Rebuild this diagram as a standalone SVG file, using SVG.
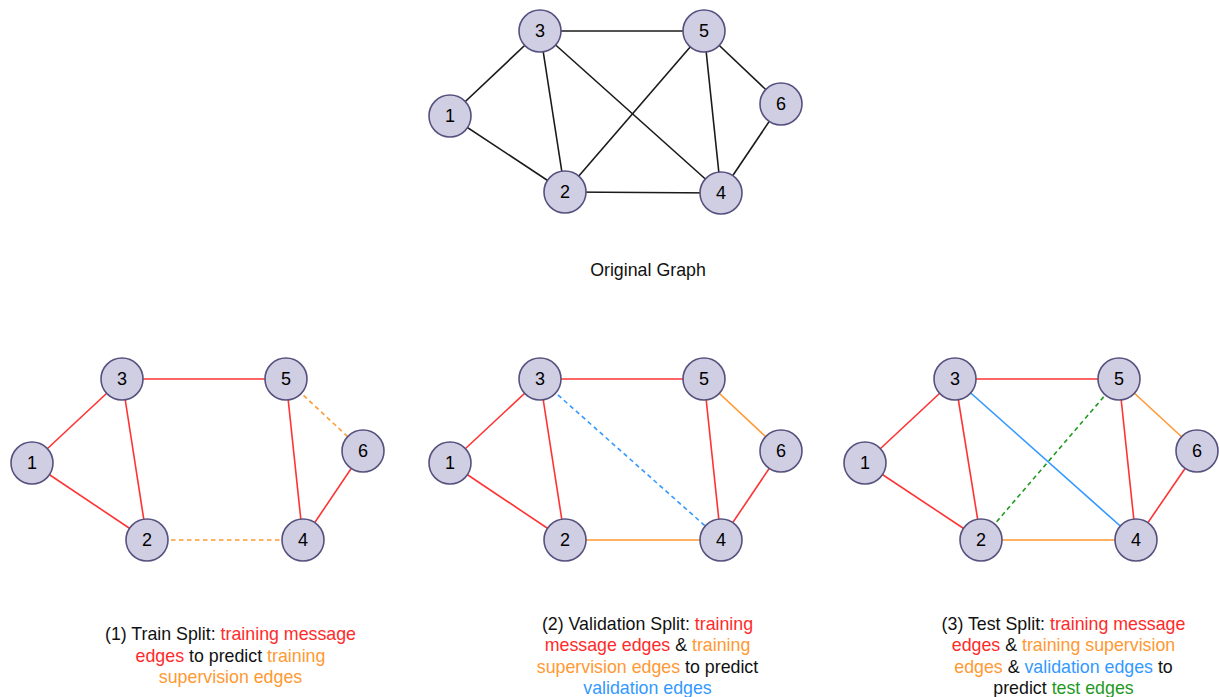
<svg xmlns="http://www.w3.org/2000/svg" width="1219" height="697" viewBox="0 0 1219 697">
  <style>
    .node circle { fill: #d0cee2; stroke: #56517e; stroke-width: 1.6; }
    .node text { font-family: "Liberation Sans", Arial, sans-serif; font-size: 18px; fill: #000; text-anchor: middle; dominant-baseline: central; }
    .e { stroke-width: 1.6; fill: none; }
    .k { stroke: #1a1a1a; }
    .r { stroke: #ff3333; }
    .o { stroke: #ff9933; }
    .b { stroke: #3399ff; }
    .g { stroke: #1f9a1f; }
    .d { stroke-dasharray: 4.5 3.5; }
    .cap { font-family: "Liberation Sans", Arial, sans-serif; font-size: 17.8px; fill: #111; text-anchor: middle; }
    .tr { fill: #ff2a2a; }
    .to { fill: #ff9933; }
    .tb { fill: #3399ff; }
    .tg { fill: #1f9a1f; }
  </style>

  <!-- connectors -->
  <g id="connectors">
    <!-- original graph -->
    <g id="edges-original">
      <line class="e k" x1="450" y1="116" x2="540" y2="31"/>
      <line class="e k" x1="450" y1="116" x2="565" y2="192"/>
      <line class="e k" x1="540" y1="31" x2="704" y2="31"/>
      <line class="e k" x1="540" y1="31" x2="565" y2="192"/>
      <line class="e k" x1="540" y1="31" x2="721" y2="193"/>
      <line class="e k" x1="704" y1="31" x2="565" y2="192"/>
      <line class="e k" x1="704" y1="31" x2="721" y2="193"/>
      <line class="e k" x1="704" y1="31" x2="781" y2="104"/>
      <line class="e k" x1="781" y1="104" x2="721" y2="193"/>
      <line class="e k" x1="565" y1="192" x2="721" y2="193"/>
    </g>
    <!-- train split -->
    <g id="edges-train">
      <line class="e r" x1="32" y1="463" x2="122" y2="379"/>
      <line class="e r" x1="32" y1="463" x2="147" y2="540"/>
      <line class="e r" x1="122" y1="379" x2="286" y2="379"/>
      <line class="e r" x1="122" y1="379" x2="147" y2="540"/>
      <line class="e r" x1="286" y1="379" x2="303" y2="540"/>
      <line class="e r" x1="363" y1="451" x2="303" y2="540"/>
      <line class="e o d" x1="286" y1="379" x2="363" y2="451"/>
      <line class="e o d" x1="147" y1="540" x2="303" y2="540"/>
    </g>
    <!-- validation split -->
    <g id="edges-validation">
      <line class="e r" x1="450" y1="463" x2="540" y2="379"/>
      <line class="e r" x1="450" y1="463" x2="565" y2="540"/>
      <line class="e r" x1="540" y1="379" x2="704" y2="379"/>
      <line class="e r" x1="540" y1="379" x2="565" y2="540"/>
      <line class="e r" x1="704" y1="379" x2="721" y2="540"/>
      <line class="e r" x1="781" y1="451" x2="721" y2="540"/>
      <line class="e o" x1="704" y1="379" x2="781" y2="451"/>
      <line class="e o" x1="565" y1="540" x2="721" y2="540"/>
      <line class="e b d" x1="540" y1="379" x2="721" y2="540"/>
    </g>
    <!-- test split -->
    <g id="edges-test">
      <line class="e r" x1="865" y1="463" x2="955" y2="379"/>
      <line class="e r" x1="865" y1="463" x2="981" y2="540"/>
      <line class="e r" x1="955" y1="379" x2="1119" y2="379"/>
      <line class="e r" x1="955" y1="379" x2="981" y2="540"/>
      <line class="e r" x1="1119" y1="379" x2="1136" y2="540"/>
      <line class="e r" x1="1197" y1="451" x2="1136" y2="540"/>
      <line class="e o" x1="1119" y1="379" x2="1197" y2="451"/>
      <line class="e o" x1="981" y1="540" x2="1136" y2="540"/>
      <line class="e b" x1="955" y1="379" x2="1136" y2="540"/>
      <line class="e g d" x1="981" y1="540" x2="1119" y2="379"/>
    </g>
  </g>

  <!-- original graph nodes -->
  <g id="o1" class="node"><circle cx="450" cy="116" r="21"/><text x="450" y="116">1</text></g>
  <g id="o2" class="node"><circle cx="565" cy="192" r="21"/><text x="565" y="192">2</text></g>
  <g id="o3" class="node"><circle cx="540" cy="31" r="21"/><text x="540" y="31">3</text></g>
  <g id="o4" class="node"><circle cx="721" cy="193" r="21"/><text x="721" y="193">4</text></g>
  <g id="o5" class="node"><circle cx="704" cy="31" r="21"/><text x="704" y="31">5</text></g>
  <g id="o6" class="node"><circle cx="781" cy="104" r="21"/><text x="781" y="104">6</text></g>

  <!-- train split nodes -->
  <g id="t1" class="node"><circle cx="32" cy="463" r="21"/><text x="32" y="463">1</text></g>
  <g id="t2" class="node"><circle cx="147" cy="540" r="21"/><text x="147" y="540">2</text></g>
  <g id="t3" class="node"><circle cx="122" cy="379" r="21"/><text x="122" y="379">3</text></g>
  <g id="t4" class="node"><circle cx="303" cy="540" r="21"/><text x="303" y="540">4</text></g>
  <g id="t5" class="node"><circle cx="286" cy="379" r="21"/><text x="286" y="379">5</text></g>
  <g id="t6" class="node"><circle cx="363" cy="451" r="21"/><text x="363" y="451">6</text></g>

  <!-- validation split nodes -->
  <g id="v1" class="node"><circle cx="450" cy="463" r="21"/><text x="450" y="463">1</text></g>
  <g id="v2" class="node"><circle cx="565" cy="540" r="21"/><text x="565" y="540">2</text></g>
  <g id="v3" class="node"><circle cx="540" cy="379" r="21"/><text x="540" y="379">3</text></g>
  <g id="v4" class="node"><circle cx="721" cy="540" r="21"/><text x="721" y="540">4</text></g>
  <g id="v5" class="node"><circle cx="704" cy="379" r="21"/><text x="704" y="379">5</text></g>
  <g id="v6" class="node"><circle cx="781" cy="451" r="21"/><text x="781" y="451">6</text></g>

  <!-- test split nodes -->
  <g id="s1" class="node"><circle cx="865" cy="463" r="21"/><text x="865" y="463">1</text></g>
  <g id="s2" class="node"><circle cx="981" cy="540" r="21"/><text x="981" y="540">2</text></g>
  <g id="s3" class="node"><circle cx="955" cy="379" r="21"/><text x="955" y="379">3</text></g>
  <g id="s4" class="node"><circle cx="1136" cy="540" r="21"/><text x="1136" y="540">4</text></g>
  <g id="s5" class="node"><circle cx="1119" cy="379" r="21"/><text x="1119" y="379">5</text></g>
  <g id="s6" class="node"><circle cx="1197" cy="451" r="21"/><text x="1197" y="451">6</text></g>

  <!-- captions -->
  <g id="caption-original">
    <text class="cap" x="648" y="276">Original Graph</text>
  </g>
  <g id="caption-train">
    <text class="cap" x="230.5" y="640">(1) Train Split: <tspan class="tr">training message</tspan></text>
    <text class="cap" x="230.5" y="661.5"><tspan class="tr">edges</tspan> to predict <tspan class="to">training</tspan></text>
    <text class="cap" x="230.5" y="683"><tspan class="to">supervision edges</tspan></text>
  </g>
  <g id="caption-validation">
    <text class="cap" x="647.5" y="629.5">(2) Validation Split: <tspan class="tr">training</tspan></text>
    <text class="cap" x="647.5" y="651"><tspan class="tr">message edges</tspan> &amp; <tspan class="to">training</tspan></text>
    <text class="cap" x="647.5" y="672.5"><tspan class="to">supervision edges</tspan> to predict</text>
    <text class="cap" x="647.5" y="694"><tspan class="tb">validation edges</tspan></text>
  </g>
  <g id="caption-test">
    <text class="cap" x="1063.5" y="629.5">(3) Test Split: <tspan class="tr">training message</tspan></text>
    <text class="cap" x="1063.5" y="651"><tspan class="tr">edges</tspan> &amp; <tspan class="to">training supervision</tspan></text>
    <text class="cap" x="1063.5" y="672.5"><tspan class="to">edges</tspan> &amp; <tspan class="tb">validation edges</tspan> to</text>
    <text class="cap" x="1063.5" y="694">predict <tspan class="tg">test edges</tspan></text>
  </g>
</svg>
